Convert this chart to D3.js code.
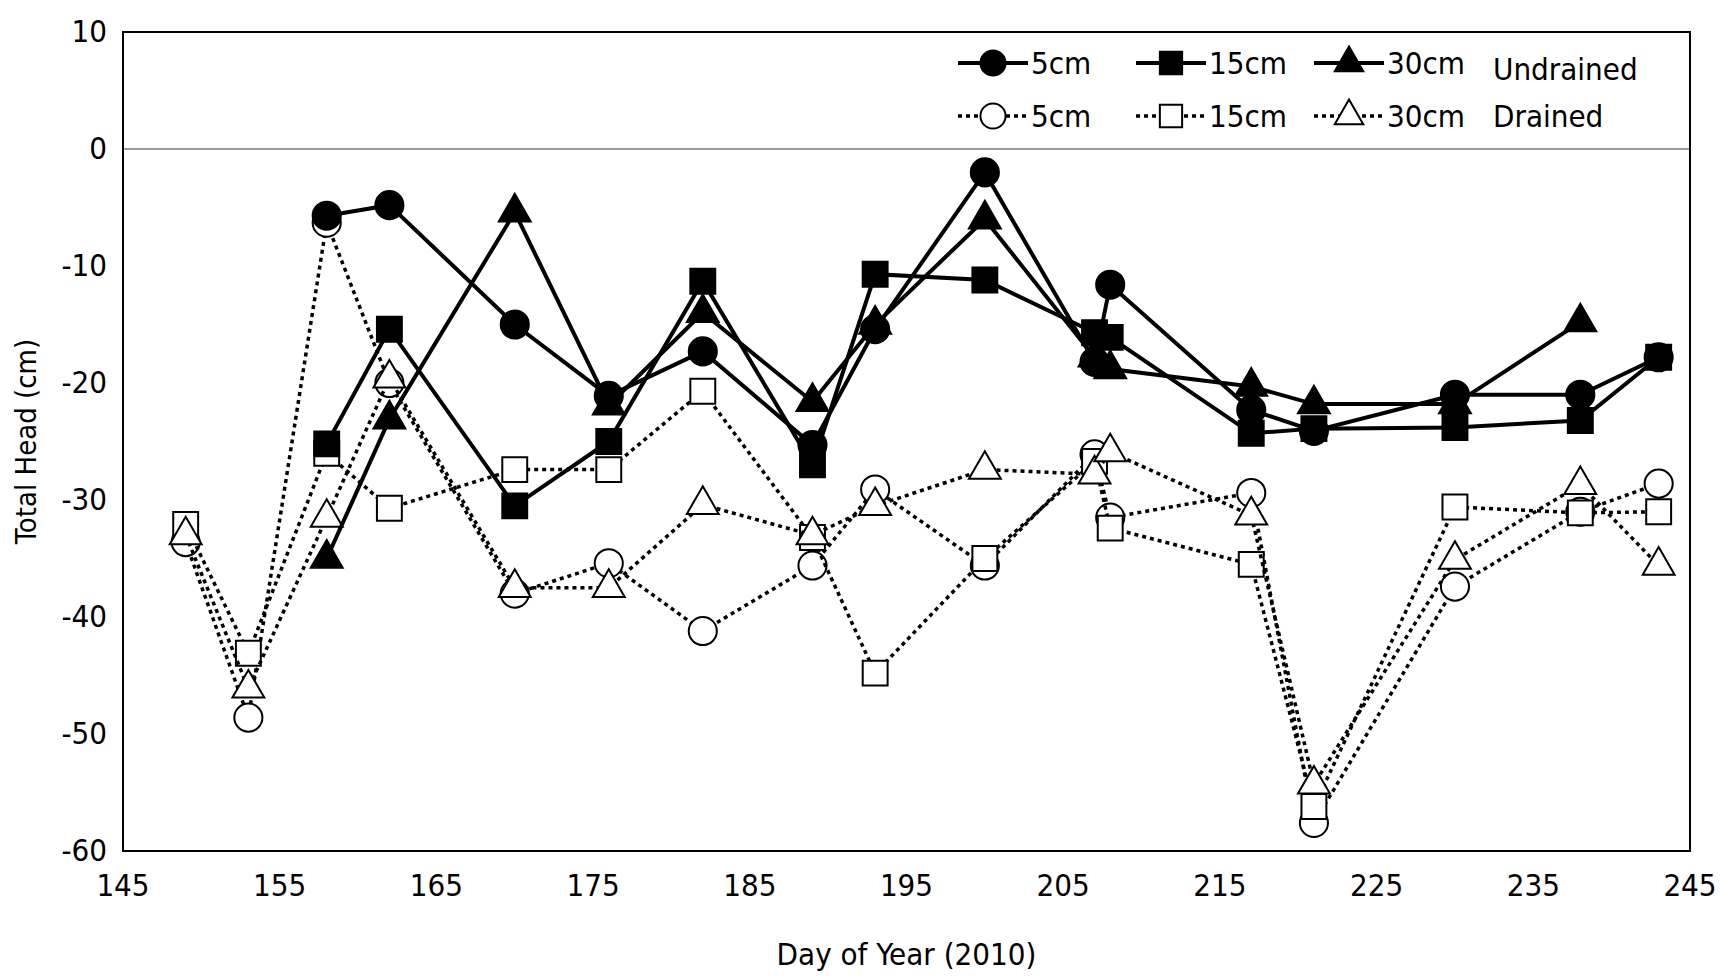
<!DOCTYPE html>
<html><head><meta charset="utf-8">
<script src="https://cdn.jsdelivr.net/npm/d3@7"></script>
<style>body{margin:0;background:#fff}text{font-family:"Liberation Sans Narrow","DejaVu Sans Condensed","Liberation Sans",Arial,sans-serif;font-stretch:condensed}</style>
</head><body>
<script>
var days = [149,153,158,162,170,176,182,189,193,200,207,208,217,221,230,238,243];
var u5  = [null,null,-5.7,-4.8,-15,-21.1,-17.3,-25.3,-15.4,-2.0,-18.2,-11.6,-22.3,-24.1,-21,-21,-17.8];
var u15 = [null,null,-25.2,-15.4,-30.5,-25,-11.3,-27,-10.7,-11.2,-15.7,-16.1,-24.3,-23.9,-23.8,-23.2,-17.8];
var u30 = [null,null,-35,-23.1,-5.4,-21.9,-14,-21.6,-15,-6,-17.8,-18.8,-20.3,-21.8,-21.8,-14.8,null];
var d5  = [-33.6,-48.6,-6.3,-20,-38,-35.4,-41.2,-35.6,-29.1,-35.6,-26.1,-31.5,-29.4,-57.6,-37.4,-31,-28.6];
var d15 = [-32.1,-43.1,-26,-30.7,-27.4,-27.4,-20.7,-33.2,-44.8,-35,-26.7,-32.4,-35.5,-56.2,-30.6,-31.1,-31];
var d30 = [-33,-46.1,-31.5,-19.6,-37.5,-37.5,-30.4,-33,-30.5,-27.4,-27.8,-25.9,-31.3,-54.3,-35.1,-28.7,-35.6];
var xTicks = [145,155,165,175,185,195,205,215,225,235,245];
var yTicks = [10,0,-10,-20,-30,-40,-50,-60];

var W = 1721, H = 976, L = 123, R = 1690, T = 32, B = 851;
var svg = d3.select('body').append('svg').attr('width', W).attr('height', H);
var x = d3.scaleLinear().domain([145,245]).range([L,R]);
var y = d3.scaleLinear().domain([-60,10]).range([B,T]);

svg.append('line').attr('x1',L).attr('x2',R).attr('y1',y(0)).attr('y2',y(0)).attr('stroke','#999').attr('stroke-width',2);
svg.append('rect').attr('x',L).attr('y',T).attr('width',R-L).attr('height',B-T).attr('fill','none').attr('stroke','#000').attr('stroke-width',2);

svg.selectAll('.xt').data(xTicks).enter().append('text')
  .attr('x', d => x(d)).attr('y', B+45).attr('text-anchor','middle').attr('font-size',31).text(d => d);
svg.selectAll('.yt').data(yTicks).enter().append('text')
  .attr('x', L-16).attr('y', d => y(d)+10).attr('text-anchor','end').attr('font-size',31).text(d => d);
svg.append('text').attr('x',(L+R)/2).attr('y',965).attr('text-anchor','middle').attr('font-size',31).text('Day of Year (2010)');
svg.append('text').attr('transform','translate(36,'+((T+B)/2)+') rotate(-90)').attr('text-anchor','middle').attr('font-size',29).text('Total Head (cm)');

var sym = {circle: d3.symbolCircle, square: d3.symbolSquare, triangle: d3.symbolTriangle};
var series = [
  {v:u5, s:'circle', filled:true, size:620},
  {v:u15, s:'square', filled:true, size:620},
  {v:u30, s:'triangle', filled:true, size:440},
  {v:d5, s:'circle', filled:false, size:620},
  {v:d15, s:'square', filled:false, size:620},
  {v:d30, s:'triangle', filled:false, size:440}
];
function draw(sr) {
  var pts = days.map((d,i) => [d, sr.v[i]]).filter(p => p[1] !== null);
  svg.append('path').datum(pts)
    .attr('d', d3.line().x(p => x(p[0])).y(p => y(p[1])))
    .attr('fill','none').attr('stroke','#000')
    .attr('stroke-width', sr.filled ? 4 : 3.5)
    .attr('stroke-dasharray', sr.filled ? null : '4,4');
  svg.selectAll(null).data(pts).enter().append('path')
    .attr('transform', p => 'translate(' + x(p[0]) + ',' + y(p[1]) + ')')
    .attr('d', d3.symbol().type(sym[sr.s]).size(sr.size))
    .attr('fill', sr.filled ? '#000' : '#fff').attr('stroke','#000').attr('stroke-width',2);
}
series.slice(3).forEach(draw);
series.slice(0,3).forEach(draw);

// legend
var lx = [958, 1136, 1314], ly = [63, 116], labels = ['5cm','15cm','30cm'];
series.forEach(function(sr, i) {
  var r = Math.floor(i/3), c = i%3;
  svg.append('line').attr('x1',lx[c]).attr('x2',lx[c]+70).attr('y1',ly[r]).attr('y2',ly[r])
    .attr('stroke','#000').attr('stroke-width', sr.filled ? 4 : 3.5).attr('stroke-dasharray', sr.filled ? null : '4,4');
  svg.append('path').attr('transform','translate('+(lx[c]+35)+','+ly[r]+')')
    .attr('d', d3.symbol().type(sym[sr.s]).size(sr.size*0.8))
    .attr('fill', sr.filled ? '#000' : '#fff').attr('stroke','#000').attr('stroke-width',2);
  svg.append('text').attr('x',lx[c]+73).attr('y',ly[r]+11).attr('font-size',31).text(labels[c]);
});
svg.append('text').attr('x',1493).attr('y',80).attr('font-size',31).text('Undrained');
svg.append('text').attr('x',1493).attr('y',127).attr('font-size',31).text('Drained');
</script>
</body></html>
